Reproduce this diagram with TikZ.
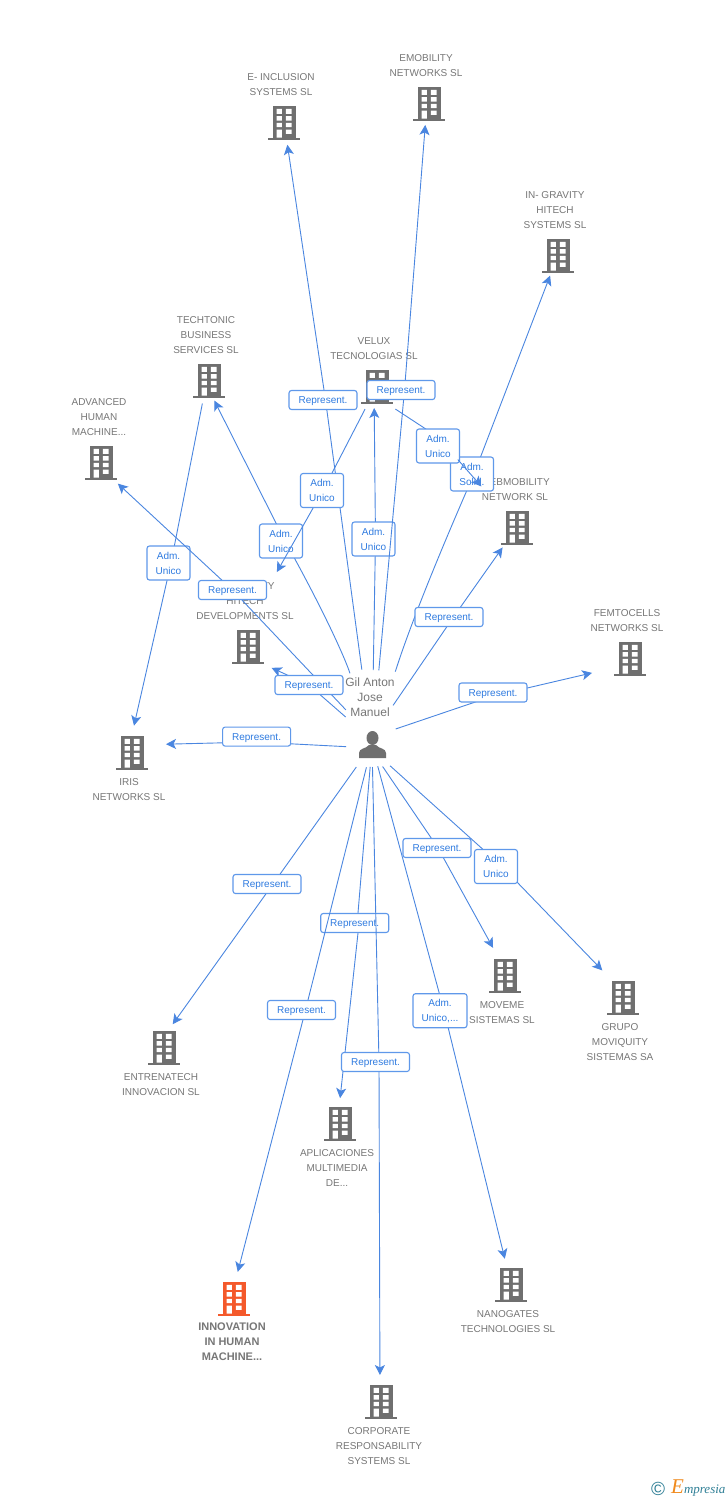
\documentclass[tikz,border=0pt]{standalone}
\usepackage{fontspec}
\setmainfont{Liberation Sans}
\newfontfamily\logofont{Liberation Serif}
\usetikzlibrary{arrows.meta,calc}
\definecolor{edgeblue}{HTML}{4A86E0}
\definecolor{boxblue}{HTML}{5F98EA}
\definecolor{txtblue}{HTML}{2F7BE0}
\definecolor{icongrey}{HTML}{6F6F6F}
\definecolor{txtgrey}{HTML}{777777}
\definecolor{hot}{HTML}{F4592B}
\definecolor{teal}{HTML}{2F7F96}
\definecolor{logoorange}{HTML}{F08A1D}
\tikzset{
  conn/.style={draw=edgeblue,line width=0.9pt},
  arr/.style={conn,-{Stealth[length=10pt,width=10pt,inset=2.5pt]}},
  repbox/.style={draw=boxblue,line width=1.1pt,rounded corners=2.5pt,fill=white,
    minimum width=68pt,minimum height=19pt,inner sep=0pt,text=txtblue,font=\fontsize{10}{15}\selectfont,align=center,
    execute at begin node={\rule{0pt}{10pt}}},
  admbox/.style={repbox,minimum width=43pt,minimum height=34pt},
  nametext/.style={text=txtgrey,font=\fontsize{10}{15}\selectfont,align=center,inner sep=0pt},
  iconbox/.style={minimum width=32pt,minimum height=34pt,inner sep=0pt}
}
\newcommand{\bld}[4]{%
  \node[iconbox] (#1) at (#2,#3) {};
  \begin{scope}[shift={(#1.center)}]
    \fill[#4] (-11.5,-16.5) rectangle (11.5,15.5);
    \fill[#4] (-16,15.5) rectangle (16,17.5);
    \fill[white] (-7.5,-13.2) rectangle (-2.2,-8.2) (1.8,-13.2) rectangle (7.5,-8.2)
      (-7.5,-5.8) rectangle (-2.2,-1.5) (1.8,-5.8) rectangle (7.5,-1.5)
      (-7.5,0.8) rectangle (-2.2,5.2) (1.8,0.8) rectangle (7.5,5.2)
      (-7.5,7.5) rectangle (-2.2,15.5) (1.8,7.5) rectangle (7.5,11.8);
  \end{scope}}
\begin{document}
\begin{tikzpicture}[x=1pt,y=-1pt]
\fill[white] (0,0) rectangle (728,1500);
\useasboundingbox (0,0) rectangle (728,1500);

% company texts
\node[nametext] (tInclusion) at (281,84.5) {E- INCLUSION\\SYSTEMS SL};
\node[nametext] (tEmob) at (426,65.5) {EMOBILITY\\NETWORKS SL};
\node[nametext] (tGrav) at (555,210) {IN- GRAVITY\\HITECH\\SYSTEMS SL};
\node[nametext] (tTech) at (206,335) {TECHTONIC\\BUSINESS\\SERVICES SL};
\node[nametext] (tVelux) at (374,348.5) {VELUX\\TECNOLOGIAS SL};
\node[nametext] (tAdv) at (99,417) {ADVANCED\\HUMAN\\MACHINE...};
\node[nametext] (tWeb) at (515,489.5) {WEBMOBILITY\\NETWORK SL};
\node[nametext] (tDev) at (245,601) {IN- GRAVITY\\HITECH\\DEVELOPMENTS SL};
\node[nametext] (tFemto) at (627,620.5) {FEMTOCELLS\\NETWORKS SL};
\node[nametext,font=\fontsize{12}{15}\selectfont] (tGil) at (370,697) {Gil Anton\\Jose\\Manuel};
\node[nametext] (tIris) at (129,789.5) {IRIS\\NETWORKS SL};
\node[nametext] (tEntre) at (161,1084.5) {ENTRENATECH\\INNOVACION SL};
\node[nametext] (tMove) at (502,1012.5) {MOVEME\\SISTEMAS SL};
\node[nametext] (tGrupo) at (620,1042) {GRUPO\\MOVIQUITY\\SISTEMAS SA};
\node[nametext] (tApli) at (337,1168) {APLICACIONES\\MULTIMEDIA\\DE...};
\node[nametext] (tNano) at (508,1321.5) {NANOGATES\\TECHNOLOGIES SL};
\node[nametext,font=\fontsize{11}{15}\selectfont\bfseries] (tInno) at (232,1342) {INNOVATION\\IN HUMAN\\MACHINE...};
\node[nametext] (tCorp) at (379,1446) {CORPORATE\\RESPONSABILITY\\SYSTEMS SL};

% company icons
\bld{inclusion}{284}{122}{icongrey}
\bld{emob}{429}{103}{icongrey}
\bld{grav}{558}{255}{icongrey}
\bld{tech}{209}{380}{icongrey}
\bld{velux}{377}{386}{icongrey}
\bld{adv}{101}{462}{icongrey}
\bld{web}{517}{527}{icongrey}
\bld{dev}{248}{646}{icongrey}
\bld{femto}{630}{658}{icongrey}
\bld{iris}{132}{752}{icongrey}
\bld{entre}{164}{1047}{icongrey}
\bld{move}{505}{975}{icongrey}
\bld{grupo}{623}{997}{icongrey}
\bld{apli}{340}{1123}{icongrey}
\bld{nano}{511}{1284}{icongrey}
\bld{inno}{234}{1298}{hot}
\bld{corp}{381}{1401}{icongrey}

% person
\node[iconbox,minimum width=28pt] (person) at (372,745) {};
\begin{scope}[shift={(person.center)}]
  \fill[icongrey] (0.5,-7) ellipse (6pt and 7pt);
  \fill[icongrey] (-13,13) -- (-13,8) .. controls (-13,3) and (-6,4) .. (-3,0) -- (4,0)
    .. controls (7,4) and (14,3) .. (14,8) -- (14,13) -- cycle;
\end{scope}

% connectors and their labels, in drawing order
\coordinate (vC) at (375.5,539);
\draw[arr,shorten <=75pt,shorten >=22pt] (person.center) -- (vC) -- ($(velux)+(-3,0)$);
\node[admbox] (labC) at ($(vC)+(-2,0)$) {Adm.\\Unico};

\coordinate (vA) at (325.5,400);
\draw[arr,shorten <=76pt,shorten >=23pt] (person.center) -- (vA) -- (inclusion.center);
\node[repbox] (labA) at ($(vA)+(-2.5,0)$) {Represent.};

\coordinate (vE) at (285,541);
\draw[arr,shorten <=75pt,shorten >=23pt] (person.center) to[bend right=6] (vE) -- ($(tech)+(-5,0)$);
\node[admbox] (labE) at ($(vE)+(-4,0)$) {Adm.\\Unico};

\coordinate (vD) at (323,490.5);
\draw[arr,shorten <=26pt,shorten >=85pt] (velux.center) -- (vD) -- ($(dev)+(-13,0)$);
\node[admbox] (labD) at ($(vD)+(-1,0)$) {Adm.\\Unico};

\coordinate (vB) at (404.5,390);
\draw[arr,shorten <=75pt,shorten >=22pt] (person.center) -- (vB) -- ($(emob)+(-2,0)$);
\node[repbox] (labB) at ($(vB)+(-3.5,0)$) {Represent.};

\coordinate (vI) at (474,474);
\draw[arr,shorten <=77pt,shorten >=22pt] (person.center) to[bend left=3] (vI) -- (grav.center);
\node[admbox] (labI) at ($(vI)+(-2,0)$) {Adm.\\Solid.};

\coordinate (vJ) at (438,437);
\draw[conn,shorten <=22pt] ($(velux)+(0,11)$) -- (vJ);
\node[admbox] (labJ) at ($(vJ)+(0,9)$) {Adm.\\Unico};
\draw[arr,shorten <=30pt,shorten >=54pt] (vJ) -- (web.center);

\coordinate (vK) at (453.5,617);
\draw[arr,shorten <=48pt,shorten >=25pt] ($(person)+(-6,0)$) -- (vK) -- (web.center);
\node[repbox] (labK) at ($(vK)+(-4.5,0)$) {Represent.};

\coordinate (vL) at (493,696);
\draw[arr,shorten <=25pt,shorten >=39pt] ($(person)+(0,-8)$) -- (vL) -- ($(femto)+(0,6)$);
\node[repbox] (labL) at ($(vL)+(0,-3.5)$) {Represent.};

\coordinate (vM) at (256,742);
\draw[arr,shorten <=26pt,shorten >=34pt] ($(person)+(0,3)$) -- (vM) -- ($(iris)+(0,-7)$);
\node[repbox] (labM) at ($(vM)+(0.6,-5.4)$) {Represent.};

\coordinate (vF) at (171,563);
\draw[arr,shorten <=24pt,shorten >=27pt] ($(tech)+(-2,0)$) -- (vF) -- ($(iris)+(-4,0)$);
\node[admbox] (labF) at ($(vF)+(-2.5,0)$) {Adm.\\Unico};

\coordinate (vG) at (232.5,590);
\draw[arr,shorten <=38pt,shorten >=23pt] ($(person)+(0,-7.5)$) -- (vG) -- ($(adv)+(0,6)$);
\node[repbox] (labG) at (vG) {Represent.};

\coordinate (vH) at (309,685);
\draw[arr,shorten <=35pt,shorten >=26pt] ($(person)+(0,-5)$) -- (vH) -- ($(dev)+(0,11)$);
\node[repbox] (labH) at (vH) {Represent.};

\coordinate (vN) at (273,884);
\draw[arr,shorten <=27pt,shorten >=28pt] (person.center) -- (vN) -- ($(entre)+(-7.6,0)$);
\node[repbox] (labN) at ($(vN)+(-6,0)$) {Represent.};

\coordinate (vR) at (444,1010.7);
\draw[arr,shorten <=22pt,shorten >=26pt] (person.center) -- (vR) -- (nano.center);
\node[admbox,minimum width=54pt] (labR) at ($(vR)+(-4,0)$) {Adm.\\Unico,...};

\coordinate (vS) at (438,848);
\draw[arr,shorten <=26pt,shorten >=31pt] ($(person)+(-4,0)$) -- (vS) -- ($(move)+(3,0)$);
\node[repbox] (labS) at ($(vS)+(-1,0)$) {Represent.};

\coordinate (vT) at (502,866.5);
\draw[arr,shorten <=31pt,shorten >=37pt] ($(person)+(-5,0)$) -- (vT) -- ($(grupo)+(5,0)$);
\node[admbox] (labT) at ($(vT)+(-6,0)$) {Adm.\\Unico};

\coordinate (vP) at (358,923);
\node[repbox] (labP) at ($(vP)+(-3.3,0)$) {Represent.};
\draw[arr,shorten >=25pt] (labP.south -| vP) -- ($(apli)+(-2.6,0)$);
\draw[conn,shorten <=22pt] (person.center) -- (labP.north -| vP);

\coordinate (vO) at (305.5,1010);
\draw[arr,shorten <=23pt,shorten >=27pt] (person.center) -- (vO) -- ($(inno)+(-3,0)$);
\node[repbox] (labO) at ($(vO)+(-4,0)$) {Represent.};

\coordinate (vQ) at (379,1062);
\draw[arr,shorten <=22pt,shorten >=26pt] (person.center) -- (vQ) -- ($(corp)+(-1,0)$);
\node[repbox] (labQ) at ($(vQ)+(-3.5,0)$) {Represent.};

% logo
\node[text=teal,font=\fontsize{19}{19}\selectfont,inner sep=0pt] (copyr) at (658,1489) {©};
\node[text=teal,font=\logofont\itshape\fontsize{13}{13}\selectfont,inner sep=0pt,anchor=base west] (brand) at (671,1493) {\textcolor{logoorange}{\fontsize{21}{21}\selectfont E}mpresia};
\end{tikzpicture}
\end{document}
